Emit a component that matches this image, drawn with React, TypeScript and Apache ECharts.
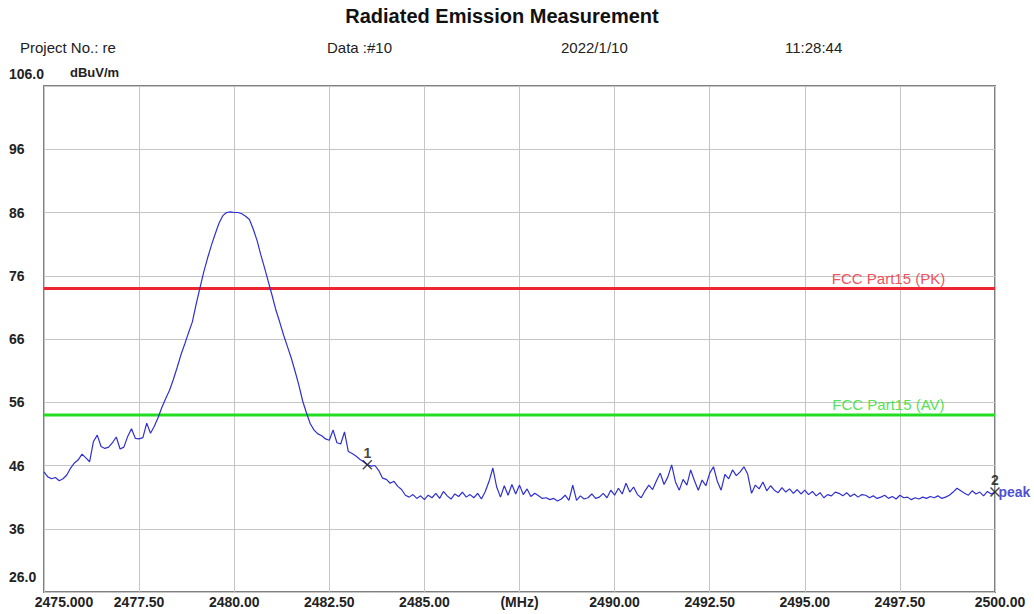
import React, { useEffect, useRef } from "react";
import * as echarts from "echarts";

const freqStart = 2475;
const freqStep = 0.1;
// measured level (dBuV/m), one value every 0.1 MHz from 2475.0 to 2500.0
const levels = [
  45.0, 44.2, 43.9, 44.1, 43.6, 43.9, 44.5, 45.6, 46.4, 46.9,
  47.8, 47.2, 46.6, 49.8, 50.8, 49.0, 48.7, 48.9, 49.6, 50.5,
  48.6, 48.9, 50.6, 51.8, 50.3, 50.2, 50.4, 52.7, 51.1, 52.2,
  53.6, 55.2, 56.6, 57.9, 59.6, 61.5, 63.5, 65.2, 67.0, 68.7,
  71.5, 74.1, 76.6, 78.8, 80.8, 82.6, 84.3, 85.5, 86.0, 86.1,
  86.0, 86.0, 85.8, 85.4, 84.9, 83.4, 81.6, 79.3, 77.2, 75.0,
  72.8, 70.5, 68.6, 66.6, 64.8, 63.0, 60.9, 58.7, 56.2, 54.3,
  52.6, 51.6, 51.0, 50.7, 50.2, 50.0, 51.6, 49.6, 49.4, 51.3,
  48.2, 47.9, 47.5, 47.0, 46.6, 46.1, 45.9, 46.0, 45.2, 44.0,
  43.8, 43.2, 43.5, 42.7, 42.2, 41.3, 41.0, 41.4, 40.8, 41.2,
  40.6, 41.3, 40.9, 41.6, 40.8, 41.9, 41.2, 40.7, 41.5, 41.1,
  41.8, 41.0, 41.4, 40.9, 41.6, 40.7, 41.9, 43.5, 45.6, 42.6,
  41.0, 42.8, 41.3, 43.0, 41.5, 42.9, 41.4, 42.3, 41.1, 41.6,
  41.2, 40.8, 40.9, 40.6, 40.8, 40.4, 40.7, 41.3, 40.5, 42.9,
  40.5, 41.2, 40.7, 40.9, 41.5, 40.8, 41.0, 41.6, 40.9, 42.1,
  41.3, 42.4, 41.5, 43.2, 41.8, 42.6, 41.4, 40.9, 42.0, 42.9,
  42.2, 43.6, 44.8, 43.0, 44.2, 46.1, 43.4, 42.1, 43.8, 42.9,
  45.3, 43.6, 42.1, 43.7, 42.8, 44.8, 45.8, 43.5, 42.1, 44.6,
  43.9, 45.3, 44.4, 45.0, 45.8, 44.6, 41.6, 42.9, 42.3, 43.4,
  42.0, 42.8, 42.1, 41.7, 42.5, 41.8, 42.3, 41.6, 42.2, 41.5,
  42.1, 41.4, 41.9, 41.2, 41.7, 40.9, 41.4, 41.2, 41.8, 41.6,
  41.2, 41.7, 41.1, 41.5, 41.0, 41.4, 41.3, 40.9, 41.2, 40.8,
  41.0, 41.3, 40.8, 41.1, 40.7, 41.3, 40.9, 41.0, 40.6, 40.9,
  40.7, 41.0, 40.8, 41.1, 40.9, 41.2, 40.8, 41.0, 41.3, 41.8,
  42.4, 42.0, 41.6, 41.3, 42.0, 41.5, 41.8, 41.2, 41.9, 41.5,
  41.8,
];

const xMin = 2475;
const xMax = 2500;
const xInterval = 2.5;
const yMin = 26;
const yMax = 106;
const yInterval = 10;

const limitNames = ["FCC Part15 (PK)", "FCC Part15 (AV)"];
const limitLevels = [74, 54];
const limitColors = ["#ee2430", "#22dd22"];
const limitLabelFreq = 2497.2;

const markerNames = ["1", "2"];
const markerFreqs = [2483.5, 2500.0];
const markerLevels = [46.1, 41.8];
const peakTag = "peak";

const titleText = "Radiated Emission Measurement";
const headerTexts = ["Project No.: re", "Data :#10", "2022/1/10", "11:28:44"];
const unitText = "dBuV/m";

const FONT = "'Liberation Sans', Arial, Helvetica, sans-serif";
const X_SHAPE =
  "path://M0,1L1,0L5,4L9,0L10,1L6,5L10,9L9,10L5,6L1,10L0,9L4,5Z";

export default function App() {
  const ref = useRef<HTMLDivElement>(null);

  useEffect(() => {
    if (!ref.current) return;
    const chart = echarts.init(ref.current, null, { renderer: "svg" });

    const trace = levels.map((v, i) => [
      Number((freqStart + i * freqStep).toFixed(1)),
      v,
    ]);

    const headerX = [20, 327, 561, 785];

    const limitSeries = limitLevels.map((lv, i) => ({
      type: "line",
      name: limitNames[i],
      data: [
        [xMin, lv],
        [xMax, lv],
      ],
      showSymbol: false,
      silent: true,
      lineStyle: { color: limitColors[i], width: 3 },
      z: 2,
    }));

    const option: any = {
      animation: false,
      backgroundColor: "#ffffff",
      grid: {
        left: 44,
        right: 39,
        top: 86,
        bottom: 22,
        show: true,
        borderColor: "#808080",
        borderWidth: 2,
        backgroundColor: "transparent",
      },
      xAxis: {
        type: "value",
        min: xMin,
        max: xMax,
        interval: xInterval,
        axisLine: { show: false },
        axisTick: { show: false },
        splitLine: { show: true, lineStyle: { color: "#c6c6c6", width: 1 } },
        axisLabel: {
          show: true,
          showMinLabel: true,
          showMaxLabel: true,
          margin: 3,
          color: "#222",
          fontFamily: FONT,
          fontWeight: "bold",
          fontSize: 14,
          formatter: (v: number) => {
            if (v === xMin) return "{first|" + v.toFixed(3) + "}";
            if (Math.abs(v - 2487.5) < 1e-6) return "{n|(MHz)}";
            if (v === xMax) return "{last|" + v.toFixed(2) + "}";
            return "{n|" + v.toFixed(2) + "}";
          },
          rich: {
            n: { fontFamily: FONT, fontWeight: "bold", fontSize: 14, color: "#222" },
            first: {
              fontFamily: FONT,
              fontWeight: "bold",
              fontSize: 14,
              color: "#222",
              padding: [0, 0, 0, 40],
            },
            last: {
              fontFamily: FONT,
              fontWeight: "bold",
              fontSize: 14,
              color: "#222",
              padding: [0, 0, 0, 10],
            },
          },
        },
      },
      yAxis: {
        type: "value",
        min: yMin,
        max: yMax,
        interval: yInterval,
        axisLine: { show: false },
        axisTick: { show: false },
        splitLine: { show: true, lineStyle: { color: "#c6c6c6", width: 1 } },
        axisLabel: {
          show: true,
          showMinLabel: true,
          showMaxLabel: true,
          align: "left",
          margin: 35,
          color: "#222",
          fontFamily: FONT,
          fontWeight: "bold",
          fontSize: 14,
          formatter: (v: number) => {
            if (v === yMax) return "{top|" + v.toFixed(1) + "}";
            if (v === yMin) return "{bot|" + v.toFixed(1) + "}";
            return "{n|" + v + "}";
          },
          rich: {
            n: { fontFamily: FONT, fontWeight: "bold", fontSize: 14, color: "#222" },
            top: {
              fontFamily: FONT,
              fontWeight: "bold",
              fontSize: 14,
              color: "#222",
              padding: [0, 0, 24, 0],
            },
            bot: {
              fontFamily: FONT,
              fontWeight: "bold",
              fontSize: 14,
              color: "#222",
              padding: [0, 0, 30, 0],
            },
          },
        },
      },
      graphic: [
        {
          type: "text",
          x: 502,
          y: 16,
          style: {
            text: titleText,
            font: "bold 20px " + FONT,
            fill: "#111",
            textAlign: "center",
            textVerticalAlign: "middle",
            align: "center",
            verticalAlign: "middle",
          },
        },
        ...headerTexts.map((t, i) => ({
          type: "text",
          x: headerX[i],
          y: 47,
          style: {
            text: t,
            font: "15px " + FONT,
            fill: "#222",
            textAlign: "left",
            textVerticalAlign: "middle",
            align: "left",
            verticalAlign: "middle",
          },
        })),
        {
          type: "text",
          x: 70,
          y: 72,
          style: {
            text: unitText,
            font: "bold 13px " + FONT,
            fill: "#222",
            textAlign: "left",
            textVerticalAlign: "middle",
            align: "left",
            verticalAlign: "middle",
          },
        },
      ],
      series: [
        {
          type: "line",
          name: "trace",
          data: trace,
          showSymbol: false,
          silent: true,
          lineStyle: { color: "#3030d0", width: 1.2 },
          z: 3,
        },
        ...limitSeries,
        {
          type: "scatter",
          name: "limit labels",
          silent: true,
          clip: false,
          symbolSize: 1,
          itemStyle: { color: "rgba(0,0,0,0)" },
          data: limitLevels.map((lv, i) => ({
            value: [limitLabelFreq, lv],
            label: {
              show: true,
              position: "top",
              distance: 2,
              formatter: limitNames[i],
              color: limitColors[i],
              fontFamily: FONT,
              fontSize: 15,
            },
          })),
          z: 4,
        },
        {
          type: "scatter",
          name: "markers",
          silent: true,
          clip: false,
          symbol: X_SHAPE,
          symbolSize: 10,
          itemStyle: { color: "#1a1a1a" },
          data: markerFreqs.map((f, i) => ({
            value: [f, markerLevels[i]],
            label: {
              show: true,
              position: "top",
              distance: 0,
              formatter: markerNames[i],
              color: "#111",
              fontFamily: FONT,
              fontWeight: "bold",
              fontSize: 14,
            },
          })),
          z: 5,
        },
        {
          type: "scatter",
          name: "peak tag",
          silent: true,
          clip: false,
          symbolSize: 1,
          itemStyle: { color: "rgba(0,0,0,0)" },
          data: [
            {
              value: [markerFreqs[1], markerLevels[1]],
              label: {
                show: true,
                position: "right",
                distance: 3,
                formatter: peakTag,
                color: "#2020c8",
                fontFamily: FONT,
                fontWeight: "bold",
                fontSize: 14,
              },
            },
          ],
          z: 5,
        },
      ],
    };

    chart.setOption(option);
    return () => chart.dispose();
  }, []);

  return (
    <div
      ref={ref}
      style={{
        position: "fixed",
        left: 0,
        top: 0,
        width: 1034,
        height: 614,
        background: "#fff",
      }}
    />
  );
}
